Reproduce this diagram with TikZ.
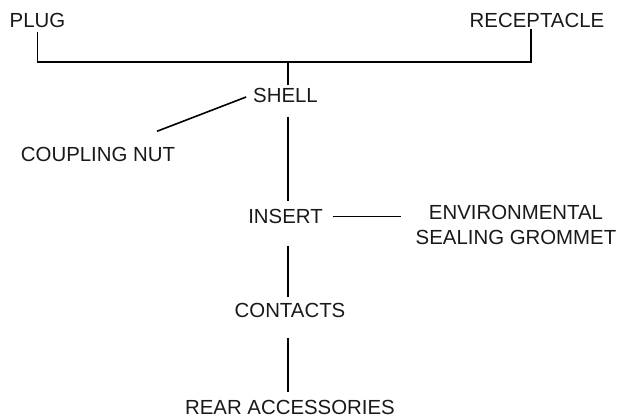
\documentclass[tikz,border=0pt]{standalone}
\usepackage{fontspec}
\setmainfont{Liberation Sans}
\begin{document}
\begin{tikzpicture}[x=1pt,y=-1pt,
  lbl/.style={inner sep=0pt, outer sep=0pt, font=\fontsize{20.4}{25}\selectfont, text=black!90},
  conn/.style={line width=1.6pt, black}]
\useasboundingbox (0,0) rectangle (624,419);
\node[lbl] (plug) at (37.5,20) {PLUG};
\node[lbl] (rec) at (537,20) {RECEPTACLE};
\node[lbl] (shell) at (285.5,95.5) {SHELL};
\node[lbl] (nut) at (98,154.5) {COUPLING NUT};
\node[lbl] (insert) at (285.5,216.5) {INSERT};
\node[lbl, align=center] (env) at (516,224.5) {ENVIRONMENTAL\\SEALING GROMMET};
\node[lbl] (contacts) at (290,310.5) {CONTACTS};
\node[lbl] (rear) at (290,407.5) {REAR ACCESSORIES};
\coordinate (bar) at (288,62);
% plug / receptacle bar
\draw[conn] ([yshift=-5pt]plug.south) |- (bar);
\draw[conn] (bar) -| ([xshift=-6pt,yshift=-2pt]rec.south);
% trunk
\draw[conn, shorten >=3pt] (bar) -- (shell.north -| bar);
\draw[conn, shorten <=14pt, shorten >=8pt] (shell.south -| bar) -- (insert.north -| bar);
\draw[conn, shorten <=22pt, shorten >=6pt] (insert.south -| bar) -- (contacts.north -| bar);
\draw[conn, shorten <=20pt, shorten >=8pt] (contacts.south -| bar) -- (rear.north -| bar);
% branches
\draw[conn] ([xshift=-7pt,yshift=-1.5pt]shell.west) -- ([xshift=59pt,yshift=16pt]nut.north);
\draw[conn, shorten <=10pt, shorten >=15pt] (insert.east) -- (insert.east -| env.west);
\end{tikzpicture}
\end{document}
